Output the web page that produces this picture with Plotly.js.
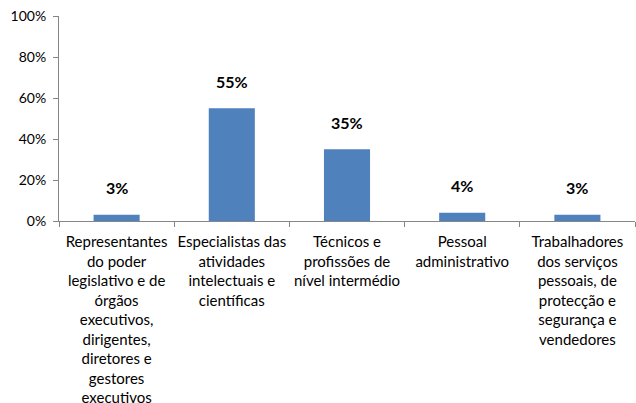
<!DOCTYPE html>
<html>
<head>
<meta charset="utf-8">
<script src="https://cdn.plot.ly/plotly-3.0.1.min.js"></script>
<style>html,body{margin:0;padding:0;background:#fff;}#chart{width:636px;height:403px;}</style>
</head>
<body>
<div id="chart"></div>
<script>
var categories = [
  "Representantes<br>do poder<br>legislativo e de<br>órgãos<br>executivos,<br>dirigentes,<br>diretores e<br>gestores<br>executivos",
  "Especialistas das<br>atividades<br>intelectuais e<br>científicas",
  "Técnicos e<br>profissões de<br>nível intermédio",
  "Pessoal<br>administrativo",
  "Trabalhadores<br>dos serviços<br>pessoais, de<br>protecção e<br>segurança e<br>vendedores"
];
var values = [0.03, 0.55, 0.35, 0.04, 0.03];
var valueLabels = ["3%", "55%", "35%", "4%", "3%"];
var yTicks = [0, 0.2, 0.4, 0.6, 0.8, 1.0];
var yTickLabels = ["0%", "20%", "40%", "60%", "80%", "100%"];

var font = "Lato, 'Open Sans', sans-serif";
var trace = {
  type: "bar",
  x: categories,
  y: values,
  marker: {color: "#4F81BD"},
  hoverinfo: "none"
};
var annotations = categories.map(function(c, i){
  return {x: c, y: values[i], text: "<b>" + valueLabels[i] + "</b>", showarrow: false,
    yshift: 27, font: {family: font, size: 16, color: "#000"}};
});
var layout = {
  width: 636, height: 403,
  margin: {l: 59, r: 1, t: 16, b: 182},
  paper_bgcolor: "#fff", plot_bgcolor: "#fff",
  bargap: 0.6,
  showlegend: false,
  font: {family: font, size: 15, color: "#000"},
  xaxis: {
    showline: true, linecolor: "#868686", linewidth: 1,
    ticks: "outside", tickson: "boundaries", ticklen: 5, tickcolor: "#868686",
    tickangle: 0, showgrid: false, zeroline: false,
    ticklabelstandoff: 7,
    tickfont: {family: font, size: 15, color: "#000"}
  },
  yaxis: {
    range: [0, 1], tickvals: yTicks, ticktext: yTickLabels,
    showline: true, linecolor: "#868686", linewidth: 1,
    ticks: "outside", ticklen: 5, tickcolor: "#868686",
    showgrid: false, zeroline: false,
    ticklabelstandoff: 4,
    tickfont: {family: font, size: 14, color: "#000"}
  },
  annotations: annotations
};
Plotly.newPlot("chart", [trace], layout, {displayModeBar: false, staticPlot: true});
</script>
</body>
</html>
